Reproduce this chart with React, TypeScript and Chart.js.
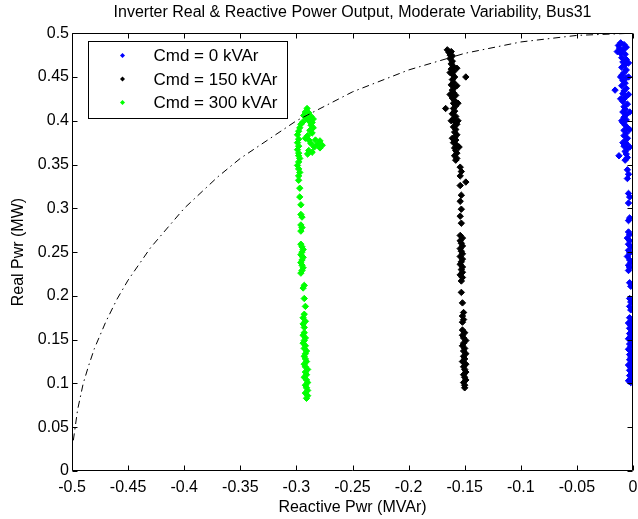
import React, { useEffect, useRef } from 'react';
import { Chart, registerables } from 'chart.js';

Chart.register(...registerables);

const FONT = '"Liberation Sans", Arial, Helvetica, sans-serif';

const TITLE = 'Inverter Real & Reactive Power Output, Moderate Variability, Bus31';
const X_TITLE = 'Reactive Pwr (MVAr)';
const Y_TITLE = 'Real Pwr (MW)';

const seriesLabels = ['Cmd = 0 kVAr', 'Cmd = 150 kVAr', 'Cmd = 300 kVAr'];
const seriesColors = ['#0000ff', '#000000', '#00ff00'];

const xTickValues = [-0.5, -0.45, -0.4, -0.35, -0.3, -0.25, -0.2, -0.15, -0.1, -0.05, 0];
const xTickLabels = ['-0.5', '-0.45', '-0.4', '-0.35', '-0.3', '-0.25', '-0.2', '-0.15', '-0.1', '-0.05', '0'];
const yTickValues = [0, 0.05, 0.1, 0.15, 0.2, 0.25, 0.3, 0.35, 0.4, 0.45, 0.5];
const yTickLabels = ['0', '0.05', '0.1', '0.15', '0.2', '0.25', '0.3', '0.35', '0.4', '0.45', '0.5'];

// Capability curve (dash-dot)
const curveQ = [-0.4988, -0.495, -0.49, -0.485, -0.48, -0.47, -0.46, -0.45, -0.43, -0.4, -0.37, -0.35, -0.3, -0.25, -0.2, -0.15, -0.1, -0.05, 0];
const curveP = [0.035, 0.07, 0.1, 0.121, 0.14, 0.17, 0.196, 0.218, 0.255, 0.3, 0.336, 0.357, 0.4, 0.433, 0.458, 0.477, 0.49, 0.4975, 0.5];

// Cmd = 0 kVAr (blue)
const blueQ = [
  -0.011, -0.013, -0.008, -0.012, -0.006, -0.014, -0.009, -0.011, -0.007, -0.010, -0.006, -0.009, -0.007, -0.010, -0.006, -0.008,
  -0.010, -0.006, -0.009, -0.007, -0.010, -0.006, -0.016, -0.008, -0.009, -0.006, -0.008, -0.009, -0.005, -0.008, -0.007, -0.009,
  -0.006, -0.008, -0.006, -0.009, -0.007, -0.005, -0.008, -0.006, -0.008, -0.005, -0.007, -0.006, -0.008, -0.005, -0.007, -0.006,
  -0.0125, -0.005, -0.007,
  -0.004, -0.004, -0.004, -0.003, -0.003, -0.003, -0.011, -0.011, -0.010, -0.009,
  -0.005, -0.004, -0.005, -0.004, -0.003, -0.004, -0.003, -0.004,
  -0.004, -0.003, -0.005, -0.003, -0.004, -0.002, -0.004, -0.003, -0.005, -0.003, -0.002, -0.004, -0.003, -0.004,
  -0.003, -0.002, -0.003, -0.002, -0.003, -0.002,
  -0.003, -0.001, -0.004, -0.002, -0.003, -0.001, -0.003, -0.002, -0.004, -0.001, -0.003, -0.002, -0.004, -0.001, -0.003, -0.002,
  -0.003, -0.001, -0.004, -0.002, -0.003, -0.001, -0.003, -0.002, -0.004, -0.002,
];
const blueP = [
  0.489, 0.486, 0.487, 0.483, 0.484, 0.479, 0.481, 0.477, 0.476, 0.472, 0.470, 0.467, 0.464, 0.461, 0.458, 0.455,
  0.452, 0.449, 0.446, 0.443, 0.440, 0.437, 0.435, 0.434, 0.431, 0.428, 0.425, 0.422, 0.419, 0.416, 0.413, 0.410,
  0.407, 0.404, 0.401, 0.398, 0.395, 0.392, 0.389, 0.386, 0.383, 0.380, 0.377, 0.374, 0.371, 0.368, 0.365, 0.362,
  0.360, 0.358, 0.355,
  0.466, 0.450, 0.430, 0.410, 0.390, 0.370, 0.450, 0.425, 0.400, 0.375,
  0.344, 0.339, 0.334, 0.317, 0.313, 0.306, 0.289, 0.286,
  0.273, 0.270, 0.266, 0.263, 0.259, 0.256, 0.252, 0.249, 0.245, 0.241, 0.238, 0.235, 0.232, 0.229,
  0.215, 0.211, 0.197, 0.193, 0.188, 0.184,
  0.175, 0.172, 0.169, 0.166, 0.163, 0.160, 0.157, 0.154, 0.151, 0.148, 0.145, 0.142, 0.139, 0.136, 0.133, 0.130,
  0.127, 0.124, 0.121, 0.118, 0.115, 0.112, 0.109, 0.106, 0.103, 0.101,
];

// Cmd = 150 kVAr (black)
const blackQ = [
  -0.1655, -0.164, -0.162, -0.163, -0.161, -0.163, -0.161, -0.162, -0.160, -0.162, -0.160, -0.161, -0.149, -0.159, -0.161, -0.160,
  -0.162, -0.159, -0.161, -0.160, -0.158, -0.161, -0.159, -0.160, -0.158, -0.167, -0.160, -0.159, -0.161, -0.158, -0.160, -0.159,
  -0.157, -0.160, -0.158, -0.159, -0.157, -0.159, -0.158, -0.160, -0.157, -0.159, -0.158, -0.157, -0.159, -0.157, -0.158,
  -0.157, -0.157, -0.156, -0.163, -0.163, -0.162, -0.161, -0.156, -0.155,
  -0.154, -0.153, -0.154, -0.149, -0.154, -0.153, -0.154, -0.153, -0.154, -0.153,
  -0.154, -0.152, -0.154, -0.153, -0.152, -0.154, -0.153, -0.152, -0.154, -0.152, -0.153, -0.154, -0.152, -0.153, -0.152, -0.154,
  -0.152, -0.153,
  -0.153, -0.152, -0.151, -0.152, -0.151, -0.152,
  -0.152, -0.150, -0.152, -0.151, -0.149, -0.151, -0.152, -0.150, -0.151, -0.149, -0.151, -0.150, -0.152, -0.149, -0.151, -0.150,
  -0.149, -0.151, -0.150, -0.149, -0.151, -0.150, -0.150,
];
const blackP = [
  0.481, 0.478, 0.479, 0.475, 0.474, 0.471, 0.468, 0.465, 0.462, 0.459, 0.456, 0.453, 0.450, 0.450, 0.447, 0.444,
  0.441, 0.438, 0.435, 0.432, 0.429, 0.426, 0.423, 0.420, 0.417, 0.414, 0.414, 0.411, 0.408, 0.405, 0.402, 0.399,
  0.396, 0.393, 0.390, 0.387, 0.384, 0.381, 0.378, 0.375, 0.372, 0.369, 0.366, 0.363, 0.360, 0.357, 0.355,
  0.460, 0.440, 0.420, 0.455, 0.430, 0.400, 0.380, 0.400, 0.370,
  0.347, 0.342, 0.337, 0.330, 0.326, 0.315, 0.308, 0.299, 0.291, 0.283,
  0.269, 0.266, 0.263, 0.260, 0.257, 0.254, 0.251, 0.248, 0.245, 0.242, 0.239, 0.236, 0.233, 0.230, 0.227, 0.224,
  0.221, 0.217,
  0.204, 0.192, 0.181, 0.177, 0.173, 0.170,
  0.161, 0.158, 0.155, 0.152, 0.149, 0.146, 0.143, 0.140, 0.137, 0.134, 0.131, 0.128, 0.125, 0.122, 0.119, 0.116,
  0.113, 0.110, 0.107, 0.104, 0.101, 0.098, 0.095,
];

// Cmd = 300 kVAr (green)
const greenQ = [
  -0.291, -0.290, -0.292, -0.290, -0.291, -0.292, -0.290, -0.291, -0.293, -0.291, -0.292, -0.290, -0.292, -0.293, -0.291, -0.292,
  -0.293, -0.292, -0.291, -0.293, -0.292, -0.294, -0.293, -0.292, -0.294, -0.293,
  -0.293, -0.294, -0.292, -0.294, -0.293, -0.292, -0.293, -0.294, -0.293,
  -0.296, -0.295, -0.294, -0.295, -0.296, -0.295, -0.294, -0.296, -0.295, -0.294, -0.295, -0.296,
  -0.296, -0.295, -0.296, -0.295, -0.296, -0.296,
  -0.297, -0.297, -0.298, -0.298, -0.297, -0.298, -0.299, -0.298, -0.297,
  -0.2905, -0.292, -0.289, -0.2935, -0.287, -0.291, -0.285, -0.289, -0.286, -0.294, -0.296, -0.287, -0.285, -0.297, -0.288, -0.298,
  -0.286, -0.299, -0.290, -0.292, -0.298, -0.289, -0.283, -0.279, -0.299, -0.287, -0.281, -0.277, -0.298, -0.284, -0.279, -0.299,
  -0.289, -0.286, -0.298, -0.290, -0.298,
];
const greenP = [
  0.083, 0.086, 0.089, 0.092, 0.095, 0.098, 0.101, 0.104, 0.107, 0.110, 0.113, 0.116, 0.119, 0.122, 0.125, 0.128,
  0.131, 0.134, 0.137, 0.140, 0.143, 0.146, 0.149, 0.152, 0.155, 0.158,
  0.164, 0.168, 0.171, 0.175, 0.179, 0.188, 0.197, 0.209, 0.212,
  0.226, 0.229, 0.232, 0.235, 0.238, 0.241, 0.244, 0.247, 0.250, 0.253, 0.256, 0.259,
  0.274, 0.278, 0.281, 0.290, 0.293, 0.304,
  0.313, 0.323, 0.332, 0.337, 0.341, 0.345, 0.349, 0.353, 0.357,
  0.414, 0.410, 0.409, 0.406, 0.405, 0.403, 0.402, 0.400, 0.398, 0.399, 0.396, 0.395, 0.392, 0.392, 0.389, 0.388,
  0.386, 0.384, 0.383, 0.380, 0.379, 0.378, 0.378, 0.377, 0.375, 0.374, 0.373, 0.372, 0.371, 0.370, 0.369, 0.367,
  0.366, 0.364, 0.363, 0.362, 0.360,
];

const toPoints = (xs: number[], ys: number[]) => xs.map((x, i) => ({ x, y: ys[i] }));

const framePlugin = {
  id: 'matlabFrame',
  afterDatasetsDraw(chart: any) {
    const { ctx, chartArea, scales } = chart;
    const l = Math.round(chartArea.left) + 0.5;
    const r = Math.round(chartArea.right) - 0.5;
    const t = Math.round(chartArea.top) + 0.5;
    const b = Math.round(chartArea.bottom) - 0.5;
    const tl = 5;
    ctx.save();
    ctx.strokeStyle = '#000';
    ctx.lineWidth = 1;
    ctx.beginPath();
    ctx.rect(l, t, r - l, b - t);
    xTickValues.forEach((v) => {
      const px = Math.round(scales.x.getPixelForValue(v)) + 0.5;
      ctx.moveTo(px, b);
      ctx.lineTo(px, b - tl);
      ctx.moveTo(px, t);
      ctx.lineTo(px, t + tl);
    });
    yTickValues.forEach((v) => {
      const py = Math.round(scales.y.getPixelForValue(v)) + 0.5;
      ctx.moveTo(l, py);
      ctx.lineTo(l + tl, py);
      ctx.moveTo(r, py);
      ctx.lineTo(r - tl, py);
    });
    ctx.stroke();
    ctx.restore();
  },
};

const legendPlugin = {
  id: 'boxLegend',
  afterDraw(chart: any) {
    const { ctx, chartArea } = chart;
    const x0 = Math.round(chartArea.left) + 16.5;
    const y0 = Math.round(chartArea.top) + 8.5;
    const w = 199;
    const h = 77;
    ctx.save();
    ctx.fillStyle = '#ffffff';
    ctx.fillRect(x0, y0, w, h);
    ctx.strokeStyle = '#000';
    ctx.lineWidth = 1;
    ctx.strokeRect(x0, y0, w, h);
    ctx.font = `17px ${FONT}`;
    ctx.textBaseline = 'middle';
    ctx.textAlign = 'left';
    seriesLabels.forEach((label, i) => {
      const cy = y0 + 14 + i * 23.5;
      const mx = x0 + 34;
      ctx.fillStyle = seriesColors[i];
      ctx.beginPath();
      ctx.moveTo(mx, cy - 2.5);
      ctx.lineTo(mx + 2.5, cy);
      ctx.lineTo(mx, cy + 2.5);
      ctx.lineTo(mx - 2.5, cy);
      ctx.closePath();
      ctx.fill();
      ctx.fillStyle = '#000';
      ctx.fillText(label, x0 + 65, cy + 1);
    });
    ctx.restore();
  },
};

export default function App() {
  const canvasRef = useRef<HTMLCanvasElement | null>(null);

  useEffect(() => {
    if (!canvasRef.current) return;
    const scatterStyle = (i: number) => ({
      pointStyle: 'rectRot' as const,
      pointRadius: 3.2,
      pointBorderWidth: 1,
      backgroundColor: seriesColors[i],
      borderColor: seriesColors[i],
      showLine: false,
    });
    const tickFont = { family: FONT, size: 16, weight: 'normal' as const };
    const chart = new Chart(canvasRef.current, {
      type: 'scatter',
      data: {
        datasets: [
          {
            label: 'capability',
            data: toPoints(curveQ, curveP),
            showLine: true,
            borderColor: '#000',
            borderWidth: 1,
            borderDash: [7, 4, 1.5, 4],
            pointRadius: 0,
            fill: false,
            order: 0,
          },
          { label: seriesLabels[2], data: toPoints(greenQ, greenP), ...scatterStyle(2), order: 1 },
          { label: seriesLabels[1], data: toPoints(blackQ, blackP), ...scatterStyle(1), order: 2 },
          { label: seriesLabels[0], data: toPoints(blueQ, blueP), ...scatterStyle(0), order: 3 },
        ],
      },
      options: {
        animation: false,
        responsive: false,
        devicePixelRatio: 1,
        layout: { padding: { left: 0, right: 4, top: 0, bottom: 0 } },
        plugins: {
          legend: { display: false },
          tooltip: { enabled: false },
          title: {
            display: true,
            text: TITLE,
            fullSize: false,
            color: '#000',
            font: { family: FONT, size: 16, weight: 'normal' },
            padding: { top: 3, bottom: 11 },
          },
        },
        scales: {
          x: {
            type: 'linear',
            min: -0.5,
            max: 0,
            afterBuildTicks: (s: any) => {
              s.ticks = xTickValues.map((v) => ({ value: v }));
            },
            afterFit: (s: any) => {
              s.height = 48;
              s.paddingLeft = 0;
              s.paddingRight = 0;
            },
            ticks: {
              callback: (_v: any, i: number) => xTickLabels[i],
              color: '#000',
              font: tickFont,
              padding: 7,
              maxRotation: 0,
              autoSkip: false,
            },
            grid: { display: false, drawTicks: false },
            border: { display: false },
            title: {
              display: true,
              text: X_TITLE,
              color: '#000',
              font: tickFont,
              padding: { top: 0, bottom: 2 },
            },
          },
          y: {
            type: 'linear',
            min: 0,
            max: 0.5,
            afterBuildTicks: (s: any) => {
              s.ticks = yTickValues.map((v) => ({ value: v }));
            },
            afterFit: (s: any) => {
              s.width = 72;
              s.paddingTop = 0;
              s.paddingBottom = 0;
            },
            ticks: {
              callback: (_v: any, i: number) => yTickLabels[i],
              color: '#000',
              font: tickFont,
              padding: 3,
              autoSkip: false,
            },
            grid: { display: false, drawTicks: false },
            border: { display: false },
            title: {
              display: true,
              text: Y_TITLE,
              color: '#000',
              font: tickFont,
              padding: { top: 9, bottom: 0 },
            },
          },
        },
      },
      plugins: [framePlugin, legendPlugin],
    });
    return () => chart.destroy();
  }, []);

  return (
    <div style={{ position: 'absolute', left: 0, top: 0, width: 638, height: 519, background: '#fff' }}>
      <canvas ref={canvasRef} width={638} height={519} style={{ display: 'block' }} />
    </div>
  );
}
